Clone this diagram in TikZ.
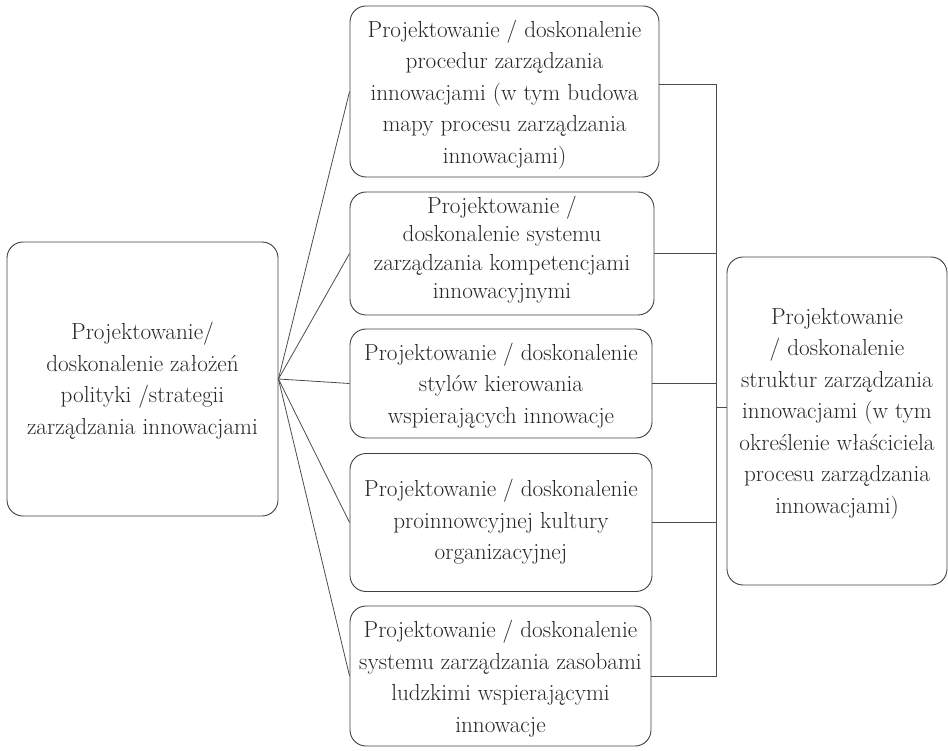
\documentclass[tikz,border=0pt]{standalone}
\usepackage{fontspec}
\begin{document}
\begin{tikzpicture}[x=1pt,y=-1pt,
  box/.style={draw=black!75, line width=0.9pt, rounded corners=16pt,
    rectangle, align=center, inner sep=0pt, text=black!85, text depth=0pt,
    font=\fontsize{23.2}{31.5}\selectfont},
  link/.style={draw=black!70, line width=0.8pt}]
\useasboundingbox (0,0) rectangle (948,751);

% left: policy / strategy  (text height places the last baseline)
\node[box, minimum width=271pt, minimum height=274pt, text height=110pt] (lb) at (142.5,379)
  {Projektowanie/\\doskonalenie założeń\\polityki /strategii\\zarządzania innowacjami};

% middle column
\node[box, minimum width=309pt, minimum height=171pt, text height=143.6pt] (m1) at (504.5,91.5)
  {Projektowanie / doskonalenie\\procedur zarządzania\\innowacjami (w tym budowa\\mapy procesu zarządzania\\innowacjami)};
\node[box, minimum width=304pt, minimum height=123pt, text height=91pt,
      font=\fontsize{23.2}{28.5}\selectfont] (m2) at (502,253.5)
  {Projektowanie /\\doskonalenie systemu\\zarządzania kompetencjami\\innowacyjnymi};
\node[box, minimum width=302pt, minimum height=109pt, text height=79.6pt] (m3) at (501,383.5)
  {Projektowanie / doskonalenie\\stylów kierowania\\wspierających innowacje};
\node[box, minimum width=302pt, minimum height=138pt, text height=74pt] (m4) at (501,522.5)
  {Projektowanie / doskonalenie\\proinnowcyjnej kultury\\organizacyjnej};
\node[box, minimum width=301pt, minimum height=140pt, text height=112pt] (m5) at (500.5,676)
  {Projektowanie / doskonalenie\\systemu zarządzania zasobami\\ludzkimi wspierającymi\\innowacje};

% right: structures
\node[box, minimum width=220pt, minimum height=328pt, text height=184pt] (rb) at (837,421)
  {Projektowanie\\/ doskonalenie\\struktur zarządzania\\innowacjami (w tym\\określenie właściciela\\procesu zarządzania\\innowacjami)};

% fan from the left box
\foreach \m in {m1,m2,m3,m4,m5}
  \draw[link] (lb.east) -- (\m.west);

% bus on the right
\coordinate (bt) at ([yshift=7pt]m1.east -| 716,0);
\coordinate (bb) at (m5.east -| 716,0);
\draw[link] ([yshift=7pt]m1.east) -- (bt) -- (bb) -- (m5.east);
\foreach \m in {m2,m3,m4}
  \draw[link] (\m.east) -- (\m.east -| bt);
\draw[link] ([yshift=14pt]rb.west -| bt) -- ([yshift=14pt]rb.west);
\end{tikzpicture}
\end{document}
